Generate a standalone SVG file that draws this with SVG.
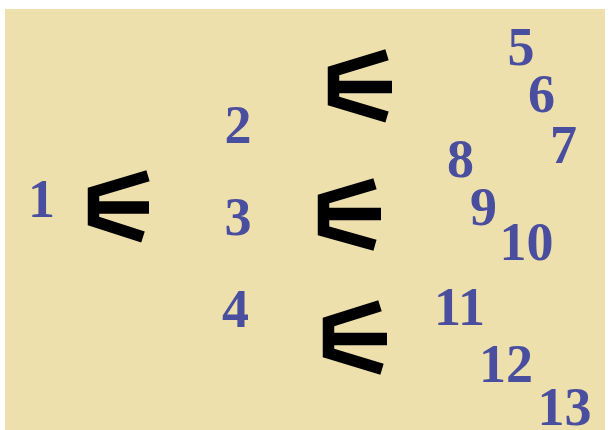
<svg xmlns="http://www.w3.org/2000/svg" width="612" height="430" viewBox="0 0 612 430">
  <style>
    .num { font-family: "Liberation Serif", "Times New Roman", serif; font-weight: bold; font-size: 54px; fill: #4a4e9e; text-anchor: middle; }
    .fork { fill: none; stroke: #000; stroke-width: 11.5; stroke-linejoin: miter; stroke-miterlimit: 10; stroke-linecap: butt; }
    .bar { fill: none; stroke: #000; stroke-width: 12.5; stroke-linecap: butt; }
  </style>
  <rect x="0" y="0" width="612" height="430" fill="#ffffff"/>
  <rect x="5" y="9" width="600" height="421" fill="#eee0ad"/>

  <g id="connectors">
    <g id="fork-1">
      <polyline class="fork" points="148,175.8 93.5,192.1 93.5,221 143,237"/>
      <line class="bar" x1="94" y1="207.5" x2="149" y2="207.5"/>
    </g>
    <g id="fork-2">
      <polyline class="fork" points="387,54.8 333.5,71 333.5,101 387,117"/>
      <line class="bar" x1="334" y1="87" x2="392" y2="87"/>
    </g>
    <g id="fork-3">
      <polyline class="fork" points="375,183.8 323.5,199.1 323.5,230.8 375,245.3"/>
      <line class="bar" x1="324" y1="214" x2="381" y2="214"/>
    </g>
    <g id="fork-4">
      <polyline class="fork" points="380,305.8 328.5,322 328.5,353 382,369.3"/>
      <line class="bar" x1="329" y1="339" x2="387" y2="339"/>
    </g>
  </g>

  <g id="n1"><text class="num" x="41.5" y="217">1</text></g>
  <g id="n2"><text class="num" x="238" y="143">2</text></g>
  <g id="n3"><text class="num" x="238" y="235">3</text></g>
  <g id="n4"><text class="num" x="235.5" y="327">4</text></g>
  <g id="n5"><text class="num" x="521" y="65">5</text></g>
  <g id="n6"><text class="num" x="541.5" y="112">6</text></g>
  <g id="n7"><text class="num" x="563.5" y="163">7</text></g>
  <g id="n8"><text class="num" x="460.5" y="177">8</text></g>
  <g id="n9"><text class="num" x="483.5" y="225">9</text></g>
  <g id="n10"><text class="num" x="526.5" y="260">10</text></g>
  <g id="n11"><text class="num" x="459.5" y="325">11</text></g>
  <g id="n12"><text class="num" x="506" y="382">12</text></g>
  <g id="n13"><text class="num" x="564.5" y="425">13</text></g>
</svg>
